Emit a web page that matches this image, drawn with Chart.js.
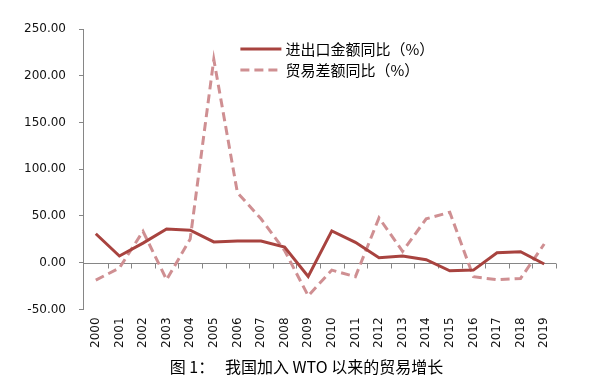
<!DOCTYPE html>
<html>
<head>
<meta charset="utf-8">
<script src="https://cdn.jsdelivr.net/npm/chart.js@4/dist/chart.umd.min.js"></script>
<style>
  body { margin: 0; background: #fff; }
  #wrap { position: relative; width: 594px; height: 385px; }
  #caption {
    position: absolute; left: 0; width: 613px; top: 354px;
    text-align: center; font: 16px "Noto Sans CJK SC"; color: #000;
    white-space: pre;
  }
</style>
</head>
<body>
<div id="wrap">
<canvas id="myChart" width="594" height="385"></canvas>
<div id="caption"></div>
</div>
<script>
var years = ['2000','2001','2002','2003','2004','2005','2006','2007','2008','2009',
             '2010','2011','2012','2013','2014','2015','2016','2017','2018','2019'];
var tradeGrowth = [31, 7.2, 21, 36.1, 34.7, 22.2, 23.3, 23.3, 16.8, -14.7,
                   34, 21.8, 5.4, 7.2, 3.2, -8.6, -7.9, 10.7, 11.8, -1.4];
var surplusGrowth = [-18.6, -5.7, 33.6, -18.2, 25.4, 217.5, 75, 47, 13, -35.4,
                     -7.9, -15, 48, 12.2, 46.9, 54, -15, -18.2, -16.8, 20];
var seriesNames = ['进出口金额同比（%）', '贸易差额同比（%）'];
var caption = '图 1：   我国加入 WTO 以来的贸易增长';

document.getElementById('caption').textContent = caption;

var axisColor = '#868686';

// zero line + small ticks at category boundaries, like the excel axis
var zeroAxis = {
    id: 'zeroAxis',
    beforeDatasetsDraw: function(chart) {
        var c = chart.ctx, x = chart.scales.x, y = chart.scales.y;
        var y0 = Math.round(y.getPixelForValue(0)) + 0.5;
        c.save();
        c.strokeStyle = axisColor;
        c.lineWidth = 1;
        c.beginPath();
        c.moveTo(chart.chartArea.left, y0);
        c.lineTo(chart.chartArea.right, y0);
        var n = years.length;
        var step = (x.right - x.left) / n;
        for (var i = 1; i <= n; i++) {
            var px = Math.round(x.left + i * step) + 0.5;
            c.moveTo(px, y0);
            c.lineTo(px, y0 + 5);
        }
        c.stroke();
        c.restore();
    }
};

// legend inside the plot, stacked
var innerLegend = {
    id: 'innerLegend',
    afterDraw: function(chart) {
        var c = chart.ctx;
        var lx = chart.scales.x.getPixelForValue(6) + 3;
        var ly = chart.scales.y.getPixelForValue(229);
        c.save();
        c.font = '15px "Noto Sans CJK SC"';
        c.textBaseline = 'middle';
        chart.data.datasets.forEach(function(ds, i) {
            var yy = Math.round(ly + i * 21);
            c.strokeStyle = ds.borderColor;
            c.lineWidth = 3;
            c.setLineDash(ds.borderDash || []);
            c.beginPath();
            c.moveTo(lx, yy);
            c.lineTo(lx + 41, yy);
            c.stroke();
            c.setLineDash([]);
            c.fillStyle = '#000';
            c.fillText(ds.label, lx + 45, yy);
        });
        c.restore();
    }
};

var ctx = document.getElementById('myChart');
var myChart = new Chart(ctx, {
    type: 'line',
    data: {
        labels: years,
        datasets: [
            {
                label: seriesNames[0],
                data: tradeGrowth,
                borderColor: '#a8433f',
                borderWidth: 3,
                pointRadius: 0,
                fill: false,
                tension: 0
            },
            {
                label: seriesNames[1],
                data: surplusGrowth,
                borderColor: '#cf8f92',
                borderWidth: 3,
                borderDash: [9, 5],
                pointRadius: 0,
                fill: false,
                tension: 0
            }
        ]
    },
    options: {
        responsive: false,
        animation: false,
        layout: { padding: { left: 11, right: 38, top: 29, bottom: 29 } },
        plugins: {
            legend: { display: false },
            tooltip: { enabled: false },
            title: { display: false }
        },
        scales: {
            x: {
                offset: true,
                grid: { display: false, drawTicks: false },
                border: { display: false },
                ticks: {
                    minRotation: 90,
                    maxRotation: 90,
                    padding: 8,
                    color: '#111',
                    font: { family: '"DejaVu Sans"', size: 12 }
                }
            },
            y: {
                min: -50,
                max: 250,
                grid: {
                    drawOnChartArea: false,
                    drawTicks: true,
                    tickLength: 5,
                    color: axisColor
                },
                border: { display: true, color: axisColor, width: 1 },
                ticks: {
                    stepSize: 50,
                    padding: 13,
                    color: '#111',
                    font: { family: '"DejaVu Sans"', size: 12 },
                    callback: function(v) { return v.toFixed(2); }
                }
            }
        }
    },
    plugins: [zeroAxis, innerLegend]
});
</script>
</body>
</html>
